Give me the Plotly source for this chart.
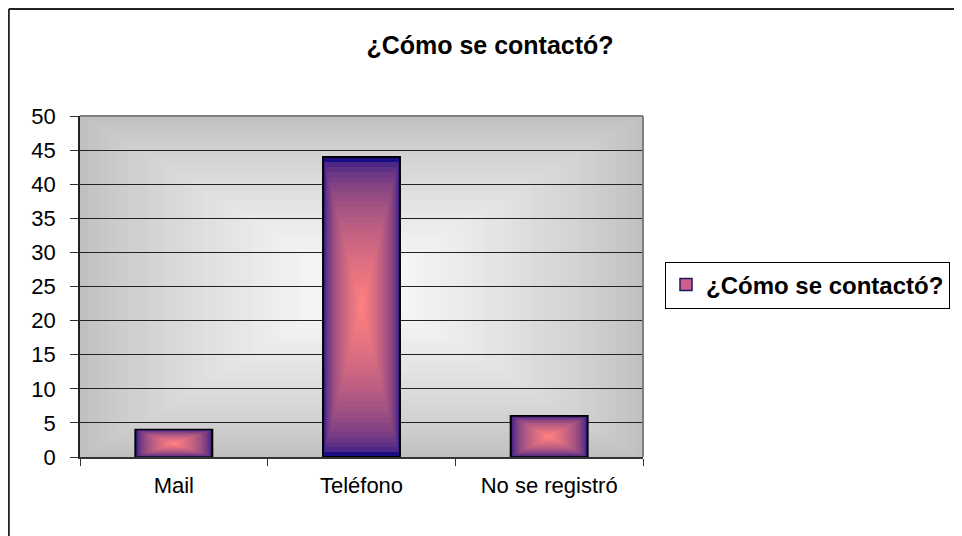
import numpy as np
import plotly.graph_objects as go

# ---- data ----
categories = ["Mail", "Teléfono", "No se registró"]
values = [4, 44, 6]
series_name = "¿Cómo se contactó?"
title_text = "¿Cómo se contactó?"
y_ticks = [0, 5, 10, 15, 20, 25, 30, 35, 40, 45, 50]

FONT = "Liberation Sans, Arial, sans-serif"
edge_rgb = np.array([26, 14, 135])
center_rgb = np.array([255, 128, 128])
bar_w = 0.41
N = 30

# figure is placed at an 8px page offset, so size/margins compensate
W, H = 954, 528
L, T = 72, 108
PW, PH = 563, 341

fig = go.Figure()
vals = np.array(values, dtype=float)
for k in range(N):
    t = k / N
    f = (k / (N - 1)) ** 0.45
    c = edge_rgb + (center_rgb - edge_rgb) * f
    col = "rgb(%d,%d,%d)" % tuple(c.astype(int))
    fig.add_trace(go.Bar(
        x=categories, y=vals * (1 - t), base=vals * t / 2,
        width=[bar_w * (1 - t)] * len(categories),
        marker=dict(color=col, line=dict(color="black", width=2 if k == 0 else 0)),
        showlegend=False, hoverinfo="skip",
    ))
# legend entry
fig.add_trace(go.Bar(
    x=categories, y=[None] * len(categories), name="<b>%s</b>" % series_name,
    marker=dict(color="rgb(205,95,140)", line=dict(color="#1a1a60", width=1.5)),
    showlegend=True, hoverinfo="skip",
))

# background rectangular gradient (styling)
shapes = []
M = 40
g_edge, g_center = 192, 252
for k in range(M):
    t = k / M * 0.98
    g = int(g_edge + (g_center - g_edge) * (k / (M - 1)) ** 0.8)
    shapes.append(dict(type="rect", xref="x domain", yref="y domain",
                       x0=t / 2, x1=1 - t / 2, y0=t / 2, y1=1 - t / 2,
                       fillcolor="rgb(%d,%d,%d)" % (g, g, g), line=dict(width=0),
                       layer="below"))
# plot area border (top/right gray)
shapes.append(dict(type="line", xref="x domain", yref="y domain", x0=0, x1=1, y0=1, y1=1,
                   line=dict(color="#808080", width=2), layer="above"))
shapes.append(dict(type="line", xref="x domain", yref="y domain", x0=1, x1=1, y0=0, y1=1,
                   line=dict(color="#808080", width=2), layer="above"))
# outer chart border (top and left visible)
bx = (0.8 - L) / PW
by = (T + PH - 1.0) / PH
shapes.append(dict(type="line", xref="paper", yref="paper", x0=bx, x1=1.8, y0=by, y1=by,
                   line=dict(color="#222222", width=2)))
shapes.append(dict(type="line", xref="paper", yref="paper", x0=bx, x1=bx, y0=-0.4, y1=by,
                   line=dict(color="#222222", width=2)))

fig.update_layout(
    width=W, height=H,
    margin=dict(l=L, r=W - L - PW, t=T, b=H - T - PH, autoexpand=False),
    paper_bgcolor="white", plot_bgcolor="#c0c0c0",
    barmode="overlay",
    font=dict(family=FONT, color="black", size=21),
    title=dict(text="<b>%s</b>" % title_text, x=(490 - 80) / PW, xref="paper", xanchor="center",
               y=1 - 37 / H, yanchor="middle", font=dict(size=25, family=FONT)),
    shapes=shapes,
    showlegend=True,
    legend=dict(x=(665 - 80) / PW, xanchor="left", y=(457 - 285) / PH, yanchor="middle",
                bgcolor="white", bordercolor="black", borderwidth=1,
                font=dict(size=24, family=FONT, color="black"),
                itemclick=False),
)

fig.update_xaxes(type="category", categoryorder="array", categoryarray=categories,
                 range=[-0.5, 2.5], showgrid=False, showline=True, linecolor="#333333", linewidth=1.5,
                 ticks="outside", tickson="boundaries", ticklen=7, tickcolor="#333333",
                 ticklabelstandoff=8, tickfont=dict(size=22, family=FONT))
fig.update_yaxes(range=[0, 50], tickvals=y_ticks, showgrid=True, gridcolor="#222222", gridwidth=1,
                 showline=True, linecolor="#222222", linewidth=1.5,
                 ticks="outside", ticklen=8, tickcolor="#333333",
                 ticklabelstandoff=10, tickfont=dict(size=22, family=FONT), zeroline=False)

fig.write_html("out.html")
